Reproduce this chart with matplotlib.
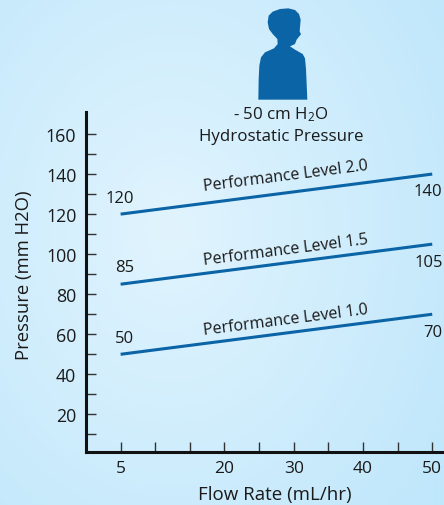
import numpy as np
import matplotlib
matplotlib.use("Agg")
import matplotlib.pyplot as plt
from matplotlib.patches import Polygon

plt.rcParams["font.family"] = ["Open Sans", "DejaVu Sans"]
plt.rcParams["mathtext.fontset"] = "custom"
plt.rcParams["mathtext.rm"] = "Open Sans"
plt.rcParams["mathtext.default"] = "rm"

W, H = 444, 506
BLUE = "#0a64a6"
INK = "#1a1a1a"

flow = [5, 50]
level_names = ["Performance Level 2.0", "Performance Level 1.5", "Performance Level 1.0"]
pressure_20 = [120, 140]
pressure_15 = [85, 105]
pressure_10 = [50, 70]

x_ticks = [5, 10, 15, 20, 25, 30, 35, 40, 45, 50]
x_labels = ["5", "", "", "20", "", "30", "", "40", "", "50"]
y_ticks = list(range(10, 170, 10))
y_labels = [str(v) if v % 20 == 0 else "" for v in y_ticks]

PERSON = [(175, 302), (176, 240), (178, 200), (183, 175), (195, 160), (222, 148), (233, 135),
          (232, 120), (218, 105), (207, 90), (203, 70), (206, 50), (218, 38), (240, 30),
          (265, 28), (285, 33), (297, 45), (302, 62), (300, 85), (299, 97), (303, 106),
          (297, 113), (290, 122), (285, 135), (270, 142), (285, 152), (308, 165), (315, 178),
          (318, 210), (322, 302)]

fig = plt.figure(figsize=(W / 100, H / 100), dpi=100)

# background: pale glow left of centre, going to a stronger blue at the corners
bg = fig.add_axes([0, 0, 1, 1], zorder=0)
bg.axis("off")
yy, xx = np.mgrid[0:H, 0:W]
r = np.sqrt(((xx - 170) / 330.0) ** 2 + ((yy - 230) / 420.0) ** 2)
r = np.clip(r, 0, 1)[..., None]
inner = np.array([225, 244, 254]) / 255
outer = np.array([192, 231, 251]) / 255
bg.imshow(inner + (outer - inner) * r, aspect="auto", extent=(0, W, H, 0))
bg.add_patch(Polygon([(200 + px / 3, py / 3) for px, py in PERSON], closed=True, fc=BLUE, ec="none"))
bg.set_xlim(0, W)
bg.set_ylim(H, 0)

bg.text(281, 115, "- 50 cm H$_2$O", ha="center", va="center", fontsize=12.2, color=INK)
bg.text(281, 137, "Hydrostatic Pressure", ha="center", va="center", fontsize=12.2, color=INK)

ax = fig.add_axes([86 / W, (H - 453) / H, (W - 86) / W, (453 - 113) / H], zorder=1)
ax.patch.set_alpha(0)
ax.set_xlim(0, 51.7)
ax.set_ylim(1.2, 171)

for vals in (pressure_20, pressure_15, pressure_10):
    ax.plot(flow, vals, color=BLUE, lw=2.2, solid_capstyle="butt")

ax.spines["top"].set_visible(False)
ax.spines["right"].set_visible(False)
ax.spines["left"].set_linewidth(2.2)
ax.spines["bottom"].set_linewidth(2.2)
ax.spines["left"].set_color("#111111")
ax.spines["bottom"].set_color("#111111")

ax.set_xticks(x_ticks)
ax.set_xticklabels(x_labels, fontsize=12.5)
ax.set_yticks(y_ticks)
ax.set_yticklabels(y_labels, fontsize=12.8)
ax.tick_params(axis="x", direction="in", length=7.5, width=1, color="#333333", pad=6, labelcolor=INK)
ax.tick_params(axis="y", direction="in", length=7.5, width=1, color="#333333", pad=7, labelcolor=INK)

ax.set_xlabel("Flow Rate (mL/hr)", fontsize=13.5, color=INK, va="center")
ax.set_ylabel("Pressure (mm H2O)", fontsize=13.3, color=INK, va="center")
ax.xaxis.set_label_coords((275 - 86) / (W - 86), -(495 - 453) / (453 - 113))
ax.yaxis.set_label_coords((24 - 86) / (W - 86), (453 - 275) / (453 - 113))

# line labels, placed in data units
for name, y0 in zip(level_names, [139.2, 102.5, 67.5]):
    ax.text(28.8, y0, name, rotation=7.3, rotation_mode="anchor", ha="center", va="center",
            fontsize=11.5, color=INK)

for y0, y1, val0, val1 in [(128, 131.5, 120, 140), (93.5, 96, 85, 105), (58, 61, 50, 70)]:
    ax.text(6.9, y0, str(val0), ha="right", va="center", fontsize=12, color=INK)
    ax.text(51.5, y1, str(val1), ha="right", va="center", fontsize=12, color=INK)

fig.savefig("out.png", dpi=100)
